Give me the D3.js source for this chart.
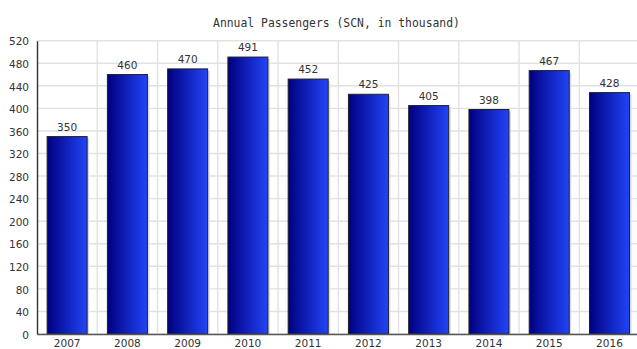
<!DOCTYPE html>
<html>
<head>
<meta charset="utf-8">
<script src="https://cdn.jsdelivr.net/npm/d3@7"></script>
<style>
html,body{margin:0;padding:0;background:#fff;overflow:hidden;}
svg{display:block;}
</style>
</head>
<body>
<svg id="chart" width="637" height="349"></svg>
<script>
const title = "Annual Passengers (SCN, in thousand)";
const years = ["2007","2008","2009","2010","2011","2012","2013","2014","2015","2016"];
const passengers = [350, 460, 470, 491, 452, 425, 405, 398, 467, 428];
const yTicks = [0,40,80,120,160,200,240,280,320,360,400,440,480,520];

const svg = d3.select("#chart");
const plotLeft = 37, plotRight = 639.6, plotTop = 40.7, plotBottom = 334;

const x = d3.scaleBand().domain(years).range([plotLeft, plotRight]).paddingInner(0.336).paddingOuter(0.168);
const y = d3.scaleLinear().domain([0, 520]).range([plotBottom, plotTop]);

const defs = svg.append("defs");
const grad = defs.append("linearGradient").attr("id","barGrad").attr("x1","0%").attr("x2","100%").attr("y1","0%").attr("y2","0%");
grad.append("stop").attr("offset","0%").attr("stop-color","#000080");
grad.append("stop").attr("offset","100%").attr("stop-color","#2244f8");

// horizontal grid
svg.append("g").selectAll("line").data(yTicks).join("line")
  .attr("x1", plotLeft).attr("x2", plotRight)
  .attr("y1", d => y(d)).attr("y2", d => y(d))
  .attr("stroke", "#e2e2e2").attr("stroke-width", 1.4);

// vertical grid at band boundaries
const boundaries = years.slice(1).map(d => x(d) - x.step() * x.paddingInner() / 2);
boundaries.push(plotRight);
svg.append("g").selectAll("line").data(boundaries).join("line")
  .attr("x1", d => d).attr("x2", d => d)
  .attr("y1", plotTop).attr("y2", plotBottom)
  .attr("stroke", "#e2e2e2").attr("stroke-width", 1.4);

// bar shadows
svg.append("g").selectAll("rect").data(passengers).join("rect")
  .attr("x", (d,i) => x(years[i]) + 2)
  .attr("y", d => y(d) + 2)
  .attr("width", x.bandwidth())
  .attr("height", d => plotBottom - y(d) - 2)
  .attr("fill", "#d8d8d8");

// bars
svg.append("g").selectAll("rect").data(passengers).join("rect")
  .attr("x", (d,i) => x(years[i]))
  .attr("y", d => y(d))
  .attr("width", x.bandwidth())
  .attr("height", d => plotBottom - y(d))
  .attr("fill", "url(#barGrad)")
  .attr("stroke", "#222")
  .attr("stroke-width", 1);

// value labels
svg.append("g").selectAll("text").data(passengers).join("text")
  .attr("x", (d,i) => x(years[i]) + x.bandwidth()/2)
  .attr("y", d => y(d) - 6)
  .attr("text-anchor", "middle")
  .attr("font-family", "DejaVu Sans, sans-serif")
  .attr("font-size", "10.5px")
  .attr("fill", "#333")
  .text(d => d);

// axes
const yAxis = d3.axisLeft(y).tickValues(yTicks).tickSize(0).tickPadding(8);
const gy = svg.append("g").attr("transform", `translate(${plotLeft},0)`).call(yAxis);
gy.select(".domain").attr("stroke", "#333").attr("stroke-width", 1.4);
gy.selectAll("text").attr("font-family", "DejaVu Sans, sans-serif").attr("font-size", "10.5px").attr("fill", "#333").attr("dy", "0.4em");

const xAxis = d3.axisBottom(x).tickSize(0).tickPadding(6);
const gx = svg.append("g").attr("transform", `translate(0,${plotBottom})`).call(xAxis);
gx.select(".domain").attr("stroke", "#555").attr("stroke-width", 1.4);
gx.selectAll("text").attr("font-family", "DejaVu Sans, sans-serif").attr("font-size", "10.5px").attr("fill", "#333");

// title
svg.append("text")
  .attr("x", 336.5)
  .attr("y", 26.5)
  .attr("text-anchor", "middle")
  .attr("font-family", "DejaVu Sans Mono, monospace")
  .attr("font-size", "11.4px")
  .attr("fill", "#333")
  .text(title);
</script>
</body>
</html>
